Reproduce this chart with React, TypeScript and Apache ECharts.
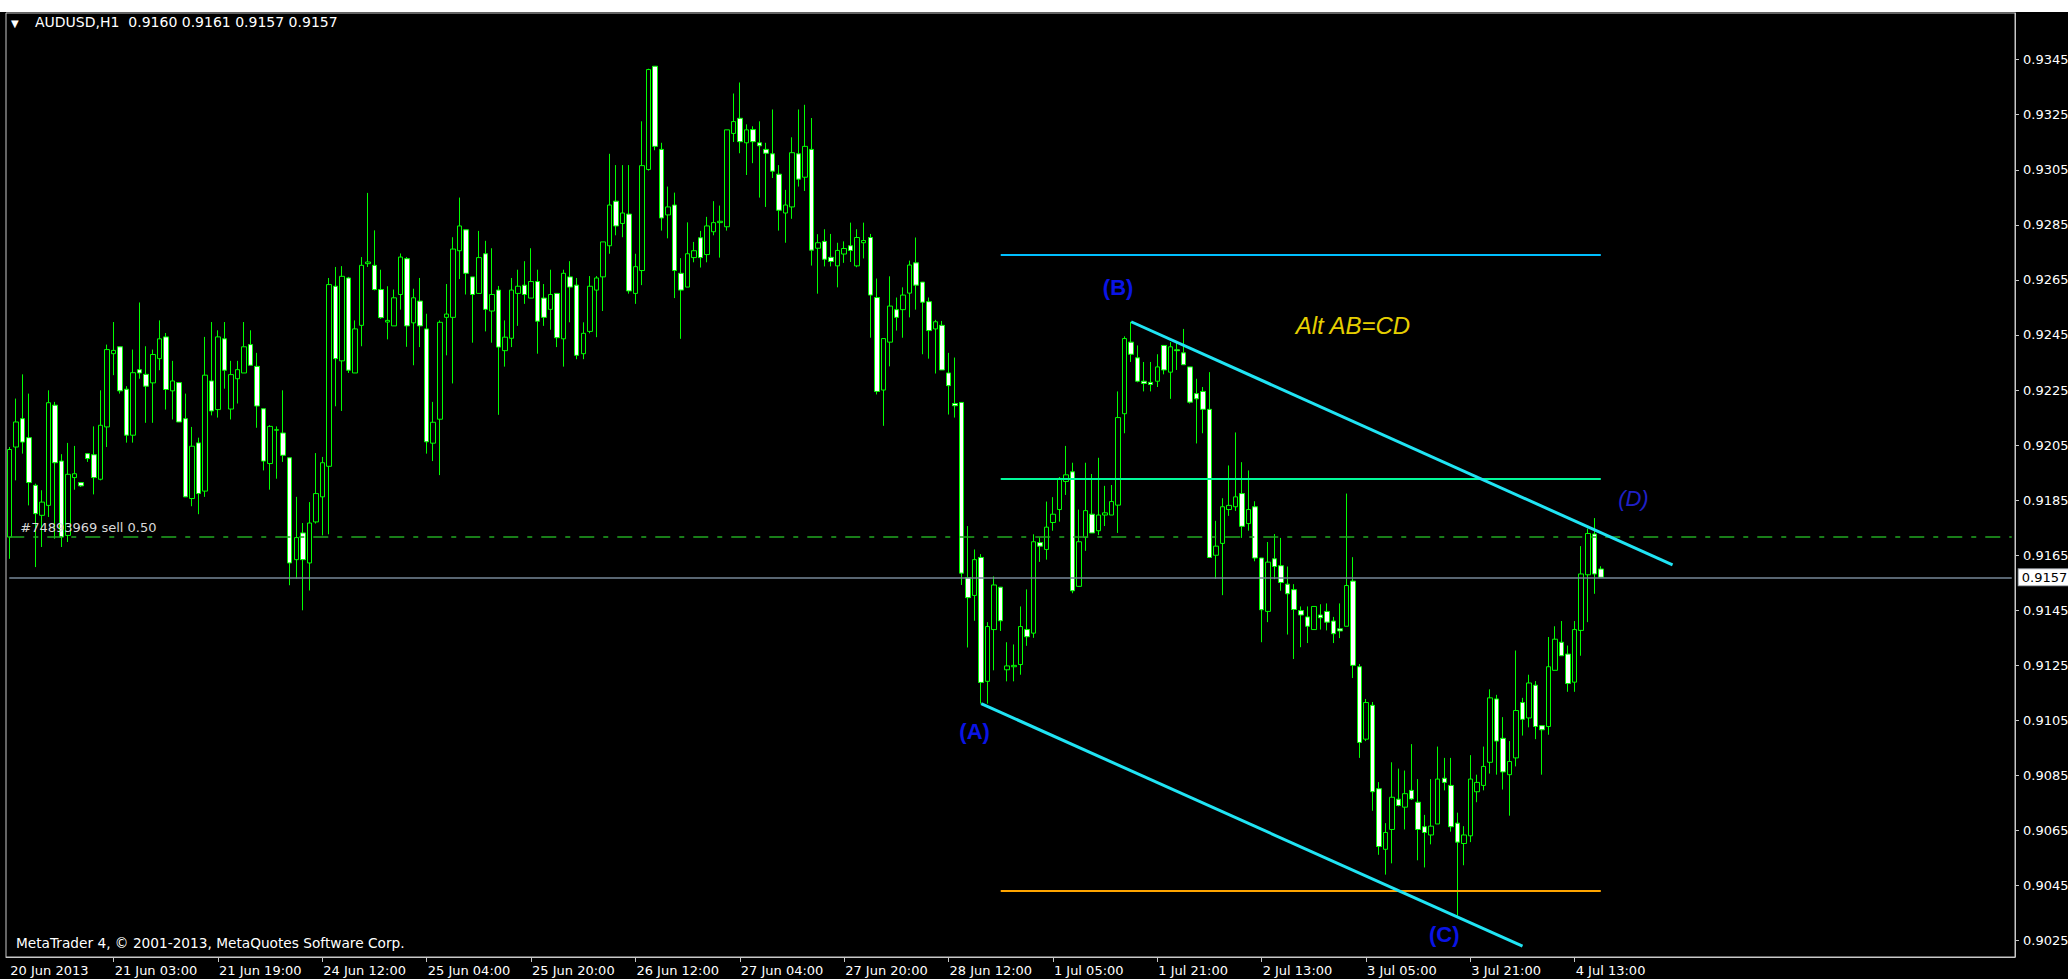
import React, { useEffect, useRef } from "react";
import * as echarts from "echarts";

// ---------- DATA ----------
// Each candle: [open, close, low, high], hourly bars from 20 Jun 2013 11:00
const candles: number[][] = [
  [0.91716, 0.92034, 0.91637, 0.92043], [0.92043, 0.92134, 0.91922, 0.92219], [0.92146, 0.92061, 0.92019, 0.92307],
  [0.92077, 0.91914, 0.91831, 0.92237], [0.91904, 0.91801, 0.91607, 0.9191], [0.91795, 0.91843, 0.9168, 0.91886],
  [0.91831, 0.92204, 0.91789, 0.92249], [0.92195, 0.91986, 0.9171, 0.92207], [0.91992, 0.91716, 0.9168, 0.92017],
  [0.91722, 0.91944, 0.91698, 0.92058], [0.91932, 0.91946, 0.91888, 0.92047], [0.91914, 0.91902, 0.91898, 0.91916],
  [0.92019, 0.92001, 0.91989, 0.92021], [0.92015, 0.91932, 0.91871, 0.92118], [0.91926, 0.92122, 0.91922, 0.92249],
  [0.92116, 0.92397, 0.92043, 0.92415], [0.92382, 0.92394, 0.92304, 0.92497], [0.92407, 0.92247, 0.92237, 0.92407],
  [0.92253, 0.92086, 0.92059, 0.92264], [0.92086, 0.92313, 0.92059, 0.92397], [0.92324, 0.92312, 0.92291, 0.92568],
  [0.92307, 0.92264, 0.92131, 0.92409], [0.92276, 0.92379, 0.92131, 0.92397], [0.92364, 0.92436, 0.92322, 0.92503],
  [0.92443, 0.92252, 0.92179, 0.92457], [0.92247, 0.92283, 0.92143, 0.92356], [0.92277, 0.92134, 0.92134, 0.92277],
  [0.92146, 0.91862, 0.91862, 0.92237], [0.91856, 0.92046, 0.91828, 0.92116], [0.92058, 0.91874, 0.91799, 0.92077],
  [0.91883, 0.92304, 0.91862, 0.92443], [0.92283, 0.92174, 0.92158, 0.92497], [0.92179, 0.92443, 0.9215, 0.92467],
  [0.92436, 0.92322, 0.92255, 0.92497], [0.92181, 0.92306, 0.92143, 0.92356], [0.92291, 0.92324, 0.92201, 0.92356],
  [0.92312, 0.92407, 0.92312, 0.92497], [0.92415, 0.9234, 0.9234, 0.92467], [0.92336, 0.92192, 0.92113, 0.92385],
  [0.92182, 0.91992, 0.91958, 0.92182], [0.91983, 0.92118, 0.91888, 0.92122], [0.92104, 0.92106, 0.91928, 0.92118],
  [0.92094, 0.92013, 0.91989, 0.92249], [0.92004, 0.91622, 0.91541, 0.92004], [0.91634, 0.91714, 0.91565, 0.91862],
  [0.91731, 0.91634, 0.9145, 0.91767], [0.91622, 0.91767, 0.91522, 0.91843], [0.91771, 0.91874, 0.91765, 0.92021],
  [0.91862, 0.91986, 0.91722, 0.92007], [0.91973, 0.92633, 0.91726, 0.92657], [0.92627, 0.92364, 0.92191, 0.92697],
  [0.92356, 0.92663, 0.92174, 0.927], [0.92657, 0.92322, 0.92312, 0.92661], [0.92312, 0.92472, 0.92312, 0.92503],
  [0.92485, 0.92703, 0.92409, 0.92733], [0.92709, 0.92715, 0.92697, 0.92966], [0.92703, 0.92615, 0.92612, 0.9283],
  [0.92615, 0.92513, 0.92509, 0.92687], [0.92497, 0.92503, 0.92434, 0.92627], [0.92483, 0.92585, 0.92483, 0.92615],
  [0.92597, 0.92733, 0.92542, 0.92746], [0.92727, 0.92483, 0.92407, 0.92733], [0.92494, 0.92585, 0.9234, 0.92618],
  [0.92573, 0.92483, 0.92406, 0.92657], [0.92472, 0.92062, 0.92019, 0.92527], [0.92057, 0.92133, 0.91992, 0.92207],
  [0.92144, 0.92496, 0.91941, 0.92503], [0.92514, 0.92526, 0.92376, 0.92635], [0.92514, 0.92762, 0.92274, 0.92805],
  [0.92756, 0.92846, 0.92653, 0.92949], [0.92832, 0.92674, 0.92597, 0.92832], [0.92661, 0.92597, 0.92422, 0.92661],
  [0.92601, 0.92731, 0.92601, 0.92828], [0.92745, 0.92543, 0.92463, 0.92792], [0.92537, 0.92597, 0.92422, 0.92765],
  [0.92613, 0.92406, 0.9216, 0.92628], [0.92393, 0.92442, 0.92335, 0.92503], [0.92438, 0.92613, 0.92406, 0.92657],
  [0.92601, 0.92627, 0.92483, 0.92687], [0.92631, 0.92597, 0.92563, 0.92718], [0.92584, 0.92644, 0.92584, 0.92765],
  [0.92644, 0.925, 0.92382, 0.92687], [0.92584, 0.92514, 0.92483, 0.92635], [0.92543, 0.92597, 0.92469, 0.92687],
  [0.92601, 0.9244, 0.92406, 0.92601], [0.92436, 0.92674, 0.92335, 0.92687], [0.92661, 0.92624, 0.92496, 0.92718],
  [0.92631, 0.92376, 0.92362, 0.92657], [0.92382, 0.92456, 0.92362, 0.92496], [0.92463, 0.92627, 0.92456, 0.92664],
  [0.92613, 0.92657, 0.92442, 0.92664], [0.92661, 0.92788, 0.92537, 0.92788], [0.92774, 0.92922, 0.92745, 0.93108],
  [0.92936, 0.92846, 0.92812, 0.93067], [0.92855, 0.92893, 0.92805, 0.93067], [0.92889, 0.9261, 0.926, 0.93067],
  [0.92601, 0.92698, 0.92563, 0.92745], [0.92684, 0.93065, 0.92631, 0.93226], [0.93051, 0.93414, 0.93047, 0.93417],
  [0.93426, 0.93135, 0.93121, 0.93426], [0.93124, 0.92875, 0.92829, 0.93148], [0.92886, 0.92915, 0.92801, 0.92989],
  [0.92922, 0.92684, 0.92584, 0.92967], [0.92674, 0.92613, 0.92436, 0.92729], [0.92624, 0.92745, 0.92624, 0.92859],
  [0.92731, 0.92756, 0.92714, 0.92788], [0.92803, 0.92731, 0.92695, 0.92828], [0.92742, 0.92846, 0.92714, 0.92879],
  [0.92825, 0.92858, 0.92812, 0.92936], [0.92858, 0.92863, 0.92731, 0.9292], [0.92843, 0.93195, 0.92829, 0.93195],
  [0.93182, 0.93225, 0.93151, 0.93327], [0.93237, 0.93152, 0.9311, 0.93367], [0.93148, 0.93195, 0.93031, 0.93215],
  [0.93196, 0.93152, 0.93074, 0.93208], [0.93148, 0.93137, 0.92949, 0.93226], [0.93124, 0.9311, 0.92915, 0.93148],
  [0.93108, 0.93045, 0.9302, 0.93269], [0.93034, 0.92903, 0.92829, 0.93067], [0.92893, 0.92922, 0.92785, 0.92977],
  [0.92915, 0.93112, 0.92872, 0.93168], [0.93108, 0.93016, 0.92989, 0.93269], [0.93023, 0.93135, 0.92973, 0.93286],
  [0.93124, 0.92758, 0.92702, 0.93238], [0.92765, 0.92785, 0.926, 0.92816], [0.9279, 0.92725, 0.92699, 0.92834],
  [0.92732, 0.92717, 0.92699, 0.92817], [0.92701, 0.92757, 0.92623, 0.92785], [0.92744, 0.92764, 0.92712, 0.9279],
  [0.92774, 0.92757, 0.92715, 0.92858], [0.92701, 0.92804, 0.92696, 0.92834], [0.92785, 0.92793, 0.92728, 0.92858],
  [0.92804, 0.92595, 0.9244, 0.92817], [0.92586, 0.92245, 0.92234, 0.92655], [0.9225, 0.92437, 0.9212, 0.92437],
  [0.92424, 0.92555, 0.92336, 0.92663], [0.92542, 0.92514, 0.92466, 0.92586], [0.92542, 0.92595, 0.9244, 0.92623],
  [0.92602, 0.92704, 0.92514, 0.9272], [0.92712, 0.92631, 0.92542, 0.92804], [0.92642, 0.92569, 0.9238, 0.92642],
  [0.92571, 0.92466, 0.92364, 0.92586], [0.92472, 0.92498, 0.9231, 0.92505], [0.92485, 0.92323, 0.92323, 0.92501],
  [0.92312, 0.92266, 0.92161, 0.92385], [0.92201, 0.92193, 0.9215, 0.92368], [0.92205, 0.91585, 0.91542, 0.92205],
  [0.91569, 0.91496, 0.91315, 0.91756], [0.91504, 0.91634, 0.91412, 0.91671], [0.91642, 0.91188, 0.91111, 0.91654],
  [0.91192, 0.91391, 0.91111, 0.91407], [0.9138, 0.91542, 0.91232, 0.91573], [0.91534, 0.91412, 0.91375, 0.91534],
  [0.91234, 0.91248, 0.91192, 0.91334], [0.91245, 0.9125, 0.91192, 0.91326], [0.91253, 0.91391, 0.91216, 0.91464],
  [0.9138, 0.91354, 0.91321, 0.91526], [0.91367, 0.91699, 0.9135, 0.91726], [0.91696, 0.91683, 0.91626, 0.91715],
  [0.91671, 0.91752, 0.91634, 0.91845], [0.91769, 0.91799, 0.91739, 0.91861], [0.91816, 0.91929, 0.91772, 0.91934],
  [0.91918, 0.91942, 0.91869, 0.92047], [0.91953, 0.91521, 0.91512, 0.91986], [0.91537, 0.91699, 0.91537, 0.91816],
  [0.91715, 0.91812, 0.91666, 0.91986], [0.91799, 0.91731, 0.91731, 0.91945], [0.91739, 0.91796, 0.91723, 0.92004],
  [0.91796, 0.91804, 0.91756, 0.91902], [0.91796, 0.91845, 0.91796, 0.91905], [0.91832, 0.9215, 0.91731, 0.92245],
  [0.92164, 0.92437, 0.92093, 0.92445], [0.92424, 0.9238, 0.92352, 0.92498], [0.92367, 0.92282, 0.92278, 0.92412],
  [0.92282, 0.92274, 0.92245, 0.92352], [0.92278, 0.9227, 0.92245, 0.92352], [0.92282, 0.92334, 0.92261, 0.9238],
  [0.92412, 0.92323, 0.92307, 0.92412], [0.92315, 0.92407, 0.92218, 0.92424], [0.92396, 0.92393, 0.92323, 0.9242],
  [0.92385, 0.92342, 0.92342, 0.92472], [0.92334, 0.92206, 0.92201, 0.92334], [0.92237, 0.92218, 0.92056, 0.92291],
  [0.92245, 0.9218, 0.92093, 0.92261], [0.9218, 0.91642, 0.91642, 0.92315], [0.9165, 0.91683, 0.91564, 0.91775],
  [0.91693, 0.91826, 0.91505, 0.91857], [0.91816, 0.91831, 0.91793, 0.91976], [0.91826, 0.91862, 0.91811, 0.92096],
  [0.91874, 0.91755, 0.91713, 0.91988], [0.91765, 0.91816, 0.91739, 0.91958], [0.91826, 0.9164, 0.91628, 0.91846],
  [0.9164, 0.91452, 0.91334, 0.9164], [0.91446, 0.91625, 0.91407, 0.91698], [0.91637, 0.91609, 0.91563, 0.91727],
  [0.91612, 0.91551, 0.91521, 0.91713], [0.91545, 0.9151, 0.91362, 0.91609], [0.91525, 0.91453, 0.91273, 0.91545],
  [0.91449, 0.91433, 0.91316, 0.91464], [0.91426, 0.91392, 0.91331, 0.91464], [0.9138, 0.91464, 0.9138, 0.91464],
  [0.91433, 0.91423, 0.9138, 0.91472], [0.91446, 0.91407, 0.91377, 0.91475], [0.91411, 0.91365, 0.91331, 0.91426],
  [0.91383, 0.91375, 0.91349, 0.91475], [0.91392, 0.9154, 0.91392, 0.91874], [0.91556, 0.9125, 0.91204, 0.91643],
  [0.91245, 0.9097, 0.90914, 0.91255], [0.90982, 0.91115, 0.90975, 0.91128], [0.91105, 0.90791, 0.90722, 0.91117],
  [0.90802, 0.90592, 0.90562, 0.90826], [0.90582, 0.90643, 0.9049, 0.90677], [0.90654, 0.90771, 0.90531, 0.90898],
  [0.90764, 0.90741, 0.90738, 0.90875], [0.90735, 0.90784, 0.90654, 0.90868], [0.90796, 0.90765, 0.90761, 0.90964],
  [0.90753, 0.90654, 0.90542, 0.90837], [0.90664, 0.90643, 0.90516, 0.90707], [0.90634, 0.90666, 0.906, 0.90837],
  [0.90674, 0.90837, 0.90674, 0.90955], [0.9084, 0.90825, 0.90796, 0.90914], [0.90814, 0.90664, 0.90646, 0.90914],
  [0.90677, 0.90608, 0.9034, 0.90715], [0.90603, 0.90634, 0.90524, 0.90666], [0.90631, 0.90837, 0.90608, 0.90924],
  [0.90791, 0.90825, 0.90753, 0.90853], [0.90814, 0.90883, 0.90796, 0.90955], [0.90898, 0.91132, 0.90857, 0.91163],
  [0.91128, 0.90975, 0.90853, 0.91143], [0.90985, 0.90863, 0.90799, 0.91062], [0.90853, 0.90901, 0.90704, 0.90975],
  [0.90914, 0.91086, 0.90883, 0.91304], [0.91115, 0.91054, 0.90995, 0.91132], [0.91059, 0.91186, 0.91025, 0.91216],
  [0.91178, 0.91028, 0.90982, 0.91193], [0.91031, 0.91016, 0.90853, 0.91031], [0.91028, 0.91245, 0.90998, 0.91353],
  [0.91232, 0.91345, 0.91232, 0.91392], [0.91334, 0.91285, 0.91285, 0.91411], [0.91291, 0.91184, 0.91154, 0.91322],
  [0.91189, 0.9138, 0.91154, 0.91411], [0.91377, 0.91582, 0.91285, 0.91683], [0.91579, 0.91729, 0.91407, 0.91747],
  [0.91727, 0.91582, 0.9151, 0.91785], [0.916, 0.9157, 0.9157, 0.9161],
];

// Time-axis labels, one every 16 bars starting at bar 0
const xTickLabels = [
  "20 Jun 2013", "21 Jun 03:00", "21 Jun 19:00", "24 Jun 12:00", "25 Jun 04:00", "25 Jun 20:00",
  "26 Jun 12:00", "27 Jun 04:00", "27 Jun 20:00", "28 Jun 12:00", "1 Jul 05:00", "1 Jul 21:00",
  "2 Jul 13:00", "3 Jul 05:00", "3 Jul 21:00", "4 Jul 13:00",
];
const barsPerLabel = 16;

// Price-axis tick values
const yTickValues = [
  0.9025, 0.9045, 0.9065, 0.9085, 0.9105, 0.9125, 0.9145, 0.9165, 0.9185,
  0.9205, 0.9225, 0.9245, 0.9265, 0.9285, 0.9305, 0.9325, 0.9345,
];

const titleSymbol = "AUDUSD,H1";
const titleQuote = ["0.9160", "0.9161", "0.9157", "0.9157"];
const copyright = "MetaTrader 4, \u00a9 2001-2013, MetaQuotes Software Corp.";

const bidPrice = 0.9157;
const orderPrice = 0.91716;
const orderLabel = "#74893969 sell 0.50";

// Horizontal levels drawn from bar 152 to bar 244
const levelBars = [152, 244];
const levelTop = 0.92741;
const levelMid = 0.91929;
const levelLow = 0.9043;

// Trend channel: [bar, price] end points
const channelUpper = [[172, 0.92498], [255, 0.91615]];
const channelLower = [[149, 0.91111], [232, 0.9023]];

// Wave labels: [text, bar, price]
const waveLabels: [string, number, number][] = [
  ["(A)", 148, 0.91008],
  ["(B)", 170, 0.92622],
  ["(C)", 220, 0.90271],
];
const waveD: [string, number, number] = ["(D)", 249, 0.91856];
const patternNote: [string, number, number] = ["Alt AB=CD", 206, 0.92483];

// ---------- LAYOUT ----------
const W = 2068;
const H = 979;
const SLOTS = 308;
const Y_MIN = 0.901908;
const Y_MAX = 0.936194;

export default function App() {
  const ref = useRef<HTMLDivElement>(null);

  useEffect(() => {
    if (!ref.current) return;
    const chart = echarts.init(ref.current, null, { renderer: "svg" });

    const categories = Array.from({ length: SLOTS }, (_, i) => String(i));
    const lastLabelIdx = (xTickLabels.length - 1) * barsPerLabel;
    const showLabel = (i: number) => i % barsPerLabel === 0 && i <= lastLabelIdx;

    const font = "DejaVu Sans";
    const frame = "#c8c8c8";

    const pairLine = (a: number[], b: number[], lineStyle: any, label: any = { show: false }) => [
      { coord: a, lineStyle, label },
      { coord: b },
    ];

    const option: any = {
      animation: false,
      backgroundColor: "#000000",
      grid: {
        left: 6,
        top: 13,
        width: 2009,
        height: 944,
        show: true,
        borderColor: frame,
        borderWidth: 1,
        containLabel: false,
        outerBoundsMode: "none",
      },
      xAxis: {
        type: "category",
        data: categories,
        boundaryGap: true,
        axisLine: { show: true, lineStyle: { color: frame, width: 1 } },
        axisTick: {
          show: true,
          alignWithLabel: true,
          interval: (i: number) => i > 0 && showLabel(i),
          length: 5,
          lineStyle: { color: frame },
        },
        axisLabel: {
          interval: (i: number) => showLabel(i),
          formatter: (_v: string, i: number) => xTickLabels[i / barsPerLabel] ?? "",
          color: "#ffffff",
          fontFamily: font,
          fontSize: 13,
          align: "left",
          margin: 7,
          padding: [0, 0, 0, 1],
        },
        splitLine: { show: false },
      },
      yAxis: {
        type: "value",
        position: "right",
        min: Y_MIN,
        max: Y_MAX,
        scale: true,
        splitLine: { show: false },
        axisLine: { show: true, lineStyle: { color: frame, width: 1 } },
        axisTick: { show: true, customValues: yTickValues, length: 4, lineStyle: { color: frame } },
        axisLabel: {
          customValues: yTickValues,
          formatter: (v: number) => v.toFixed(4),
          color: "#ffffff",
          fontFamily: font,
          fontSize: 13,
          margin: 8,
        },
      },
      graphic: [
        { type: "rect", left: 0, top: 0, z: 100, shape: { width: W, height: 12 }, style: { fill: "#ffffff" } },
        {
          type: "text", left: 11, top: 18, z: 100,
          style: { text: "\u25BC", fill: "#ffffff", font: `10px ${font}` },
        },
        {
          type: "text", left: 35, top: 15, z: 100,
          style: { text: `${titleSymbol}  ${titleQuote.join(" ")}`, fill: "#ffffff", font: `14px ${font}` },
        },
        {
          type: "text", left: 16, top: 936, z: 100,
          style: { text: copyright, fill: "#ffffff", font: `13.7px ${font}` },
        },
      ],
      series: [
        {
          type: "candlestick",
          data: candles,
          barWidth: 5,
          itemStyle: {
            color: "#000000",
            color0: "#ffffff",
            borderColor: "#00ff00",
            borderColor0: "#00ff00",
            borderColorDoji: "#00ff00",
            borderWidth: 1,
          },
          markLine: {
            silent: true,
            symbol: ["none", "none"],
            label: { show: false },
            emphasis: { disabled: true },
            data: [
              pairLine(
                [0, bidPrice],
                [SLOTS - 1, bidPrice],
                { color: "#778899", width: 1.5, type: "solid" },
                {
                  show: true,
                  position: "end",
                  distance: 7,
                  formatter: bidPrice.toFixed(4),
                  color: "#000000",
                  backgroundColor: "#ffffff",
                  borderColor: "#9aa0a6",
                  borderWidth: 1,
                  padding: [2, 8, 1, 3],
                  fontFamily: font,
                  fontSize: 13,
                }
              ),
              pairLine(
                [0, orderPrice],
                [SLOTS - 1, orderPrice],
                { color: "#22a822", width: 1.5, type: [15, 9, 5, 9] },
                {
                  show: true,
                  position: "insideStartTop",
                  distance: 3,
                  formatter: orderLabel,
                  color: "#d8d8d8",
                  fontFamily: font,
                  fontSize: 13,
                  padding: [0, 0, 0, 8],
                }
              ),
              pairLine([levelBars[0], levelTop], [levelBars[1], levelTop], { color: "#00bfff", width: 2, type: "solid" }),
              pairLine([levelBars[0], levelMid], [levelBars[1], levelMid], { color: "#00fa9a", width: 2, type: "solid" }),
              pairLine([levelBars[0], levelLow], [levelBars[1], levelLow], { color: "#ffa500", width: 2, type: "solid" }),
              pairLine(channelUpper[0], channelUpper[1], { color: "#20e4f4", width: 3, type: "solid" }),
              pairLine(channelLower[0], channelLower[1], { color: "#20e4f4", width: 3, type: "solid" }),
            ],
          },
          markPoint: {
            silent: true,
            symbol: "circle",
            symbolSize: 1,
            itemStyle: { color: "rgba(0,0,0,0)" },
            data: [
              ...waveLabels.map(([t, x, y]) => ({
                coord: [x, y],
                label: {
                  show: true, position: "inside", formatter: t, color: "#0a14e6",
                  fontFamily: "Liberation Sans", fontSize: 22, fontWeight: "bold",
                },
              })),
              {
                coord: [waveD[1], waveD[2]],
                label: {
                  show: true, position: "inside", formatter: waveD[0], color: "#2020c8",
                  fontFamily: "Liberation Sans", fontSize: 22, fontStyle: "italic",
                },
              },
              {
                coord: [patternNote[1], patternNote[2]],
                label: {
                  show: true, position: "inside", formatter: patternNote[0], color: "#e6cf00",
                  fontFamily: "Liberation Sans", fontSize: 24, fontStyle: "italic",
                },
              },
            ],
          },
        },
      ],
    };

    chart.setOption(option);
    return () => chart.dispose();
  }, []);

  return (
    <div
      ref={ref}
      style={{ position: "fixed", left: 0, top: 0, width: W, height: H, background: "#000" }}
    />
  );
}
